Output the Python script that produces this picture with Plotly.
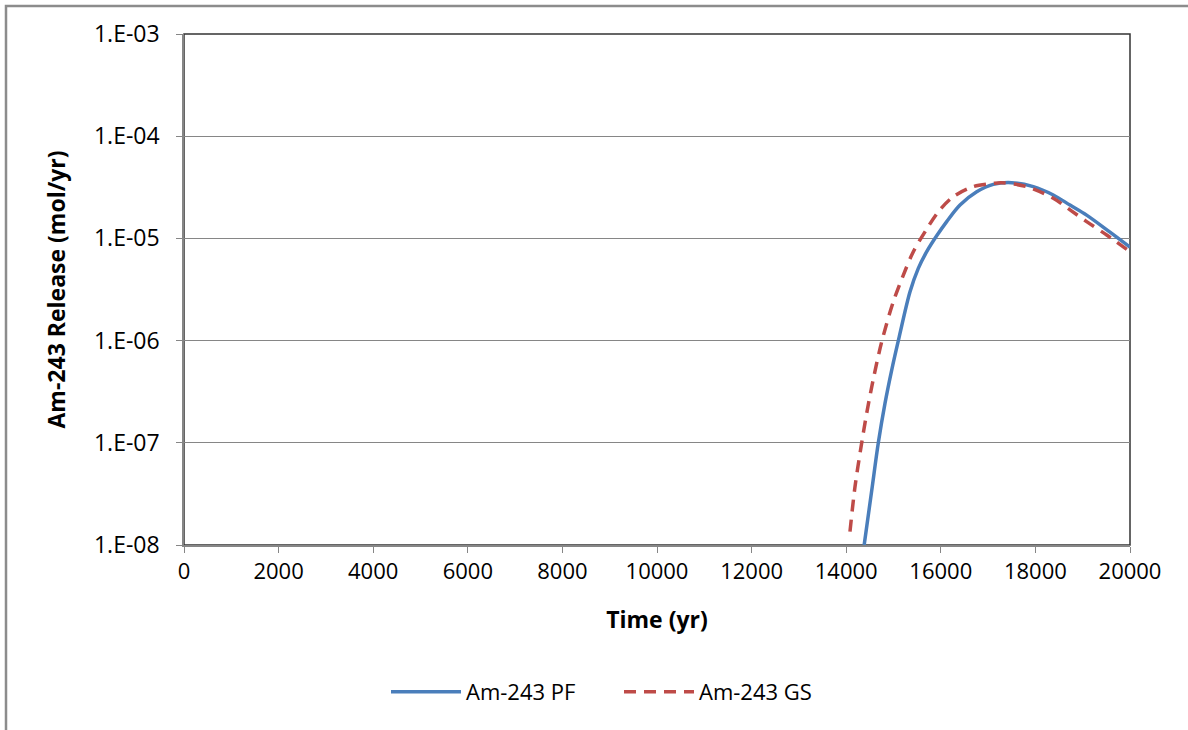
import plotly.graph_objects as go

# Data
pf_time = [14380, 14539, 14679, 14820, 14962, 15123, 15349, 15524, 15702, 15913,
           16125, 16406, 16759, 17110, 17499, 17956, 18378, 18732, 19083, 19577, 20000]
pf_release = [1.0e-8, 3.39e-8, 1.0e-7, 2.43e-7, 5.15e-7, 1.1e-6, 3.0e-6, 5.09e-6, 7.41e-6, 1.06e-5,
              1.46e-5, 2.12e-5, 2.86e-5, 3.38e-5, 3.51e-5, 3.21e-5, 2.66e-5, 2.12e-5, 1.69e-5, 1.15e-5, 8.2e-6]

gs_time = [14080, 14186, 14328, 14434, 14573, 14751, 14996, 15208, 15419, 15666, 15947,
           16265, 16687, 17110, 17285, 17816, 18378, 18732, 19083, 19507, 20000]
gs_release = [1.35e-8, 3.72e-8, 1.0e-7, 1.95e-7, 4.2e-7, 9.75e-7, 2.4e-6, 4.38e-6, 7.41e-6, 1.16e-5, 1.82e-5,
              2.56e-5, 3.21e-5, 3.45e-5, 3.5e-5, 3.21e-5, 2.47e-5, 1.9e-5, 1.46e-5, 1.08e-5, 7.4e-6]

y_tickvals = [1e-8, 1e-7, 1e-6, 1e-5, 1e-4, 1e-3]
y_ticktext = ["1.E-08", "1.E-07", "1.E-06", "1.E-05", "1.E-04", "1.E-03"]

FONT = "Open Sans"

fig = go.Figure()
fig.add_trace(go.Scatter(
    x=pf_time, y=pf_release, name="Am-243 PF", mode="lines",
    line=dict(color="#4A7EBB", width=3.5, shape="spline", smoothing=0.9),
))
fig.add_trace(go.Scatter(
    x=gs_time, y=gs_release, name="Am-243 GS", mode="lines",
    line=dict(color="#BE4B48", width=3.5, dash="12px,8px", shape="spline", smoothing=0.9),
))

L, R, T, B = 184, 1130, 34, 545
W, H = 1188, 730
pw, ph = R - L, B - T

def px_x(p):
    return (p - L) / pw

def px_y(p):
    return (B - p) / ph

fig.update_layout(
    width=W, height=H,
    margin=dict(l=L, r=W - R, t=T, b=H - B, pad=0),
    paper_bgcolor="white", plot_bgcolor="white",
    font=dict(family=FONT, size=22, color="#000000"),
    showlegend=True,
    legend=dict(
        orientation="h", x=px_x(386), xanchor="left", y=px_y(692), yanchor="middle",
        font=dict(family=FONT, size=22, color="#000000"),
        itemwidth=70, entrywidth=148, bgcolor="rgba(0,0,0,0)",
    ),
    xaxis=dict(
        range=[0, 20000], dtick=2000, tick0=0, tickformat="d",
        showgrid=False, zeroline=False,
        showline=True, linecolor="#868686", linewidth=1.5,
        ticks="outside", ticklen=6, tickcolor="#868686",
        tickfont=dict(family=FONT, size=22, color="#000000"),
        title=dict(text="<b>Time (yr)</b>", font=dict(family=FONT, size=23), standoff=28),
    ),
    yaxis=dict(
        type="log", range=[-8, -3],
        tickvals=y_tickvals, ticktext=y_ticktext,
        showgrid=True, gridcolor="#868686", gridwidth=1,
        zeroline=False,
        showline=True, linecolor="#868686", linewidth=1.5,
        ticks="outside", ticklen=6, tickcolor="#868686",
        ticklabelstandoff=12,
        tickfont=dict(family=FONT, size=23, color="#000000"),
        title=dict(text="<b>Am-243 Release (mol/yr)</b>", font=dict(family=FONT, size=23), standoff=22),
    ),
    shapes=[
        # plot area frame (dark top/right)
        dict(type="rect", xref="paper", yref="paper", x0=0, x1=1, y0=0, y1=1,
             line=dict(color="#333333", width=1.5), layer="below"),
        # outer chart border
        dict(type="rect", xref="paper", yref="paper",
             x0=px_x(6), x1=px_x(1210), y0=px_y(750), y1=px_y(6),
             line=dict(color="#8C8C8C", width=2.5), layer="below"),
    ],
)

fig.write_html("out.html", config={"displayModeBar": False},
               post_script="document.body.style.margin='0';")
